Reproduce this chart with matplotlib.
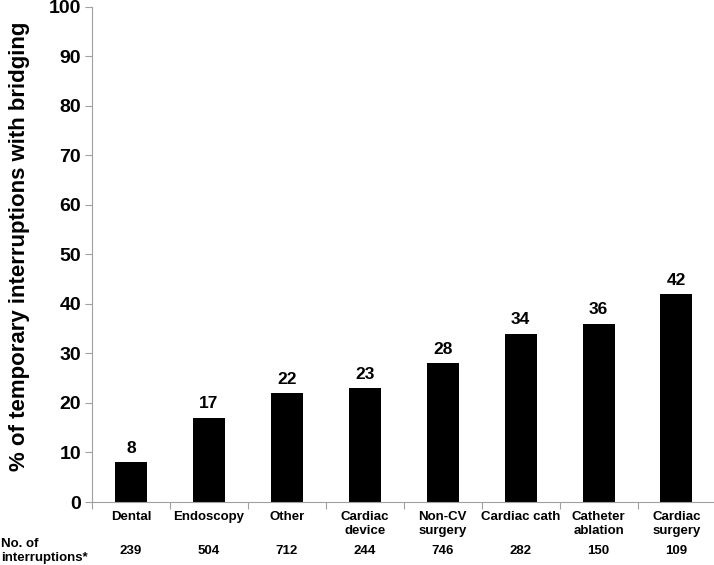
import matplotlib
matplotlib.use("Agg")
import matplotlib.pyplot as plt
import numpy as np

plt.rcParams['font.family'] = ['Liberation Sans', 'DejaVu Sans']
plt.rcParams['font.weight'] = 'bold'

categories = ["Dental", "Endoscopy", "Other", "Cardiac\ndevice", "Non-CV\nsurgery",
              "Cardiac cath", "Catheter\nablation", "Cardiac\nsurgery"]
values = [8, 17, 22, 23, 28, 34, 36, 42]
counts = [239, 504, 712, 244, 746, 282, 150, 109]
yticks = [0, 10, 20, 30, 40, 50, 60, 70, 80, 90, 100]

fig = plt.figure(figsize=(7.14, 5.65), dpi=100)
ax = fig.add_axes([0.129, 0.1115, 0.873, 0.8765])

x = np.arange(len(categories))
ax.bar(x, values, width=0.41, color='black')
for xi, v in zip(x, values):
    ax.text(xi, v + 1.3, str(v), ha='center', va='bottom', fontsize=12.5, fontweight='bold')

ax.set_xlim(-0.5, len(categories) - 0.5)
ax.set_ylim(0, 100)
ax.set_yticks(yticks)
ax.set_yticklabels([str(t) for t in yticks], fontsize=14, fontweight='bold')
ax.set_xticks(np.arange(-0.5, len(categories), 1.0))
ax.set_xticklabels([])
ax.tick_params(axis='x', direction='out', length=5, color='#a0a0a0')
ax.tick_params(axis='y', direction='out', length=5, color='#a0a0a0', pad=3)
for s in ['top', 'right']:
    ax.spines[s].set_visible(False)
ax.spines['left'].set_color('#a0a0a0')
ax.spines['bottom'].set_color('#a0a0a0')

ax.set_ylabel("% of temporary interruptions with bridging", fontsize=16, fontweight='bold')
ax.yaxis.set_label_coords(-0.1, 0.517)

trans = ax.get_xaxis_transform()
for xi, c in zip(x, categories):
    ax.text(xi, -0.018, c, transform=trans, ha='center', va='top', fontsize=9.5,
            fontweight='bold', linespacing=1.2)
for xi, n in zip(x, counts):
    ax.text(xi, -0.099, str(n), transform=trans, ha='center', va='center', fontsize=9.5,
            fontweight='bold')
fig.text(0.001, 0.0245, "No. of\ninterruptions*", ha='left', va='center', fontsize=9.5,
         fontweight='bold', linespacing=1.25)

fig.savefig("out.png", dpi=100)
